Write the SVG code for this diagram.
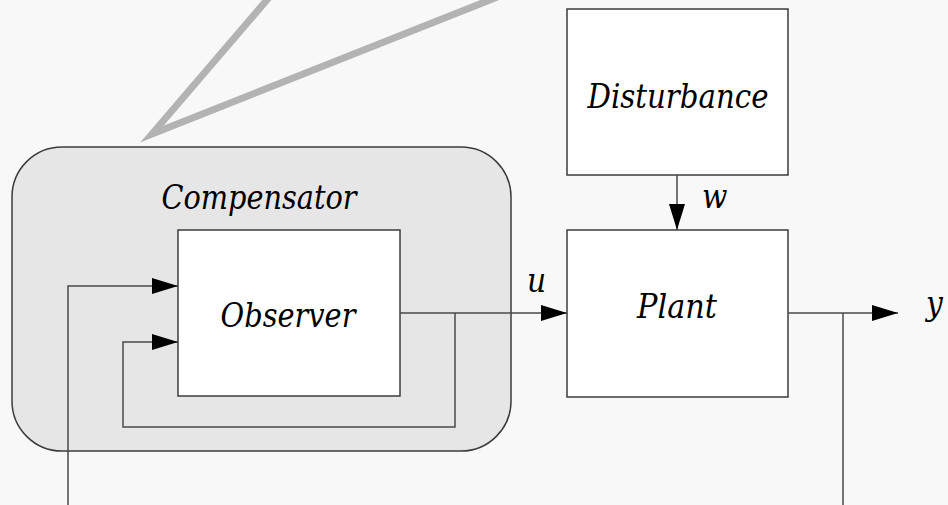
<svg xmlns="http://www.w3.org/2000/svg" width="948" height="505" viewBox="0 0 948 505">
  <style>
    .box { fill: #ffffff; stroke: #3c3c3c; stroke-width: 1.5; }
    .group { fill: #e6e6e6; stroke: #3c3c3c; stroke-width: 1.5; }
    .wire { fill: none; stroke: #4a4a4a; stroke-width: 1.5; }
    .mid { text-anchor: middle; }
    .lbl { font-family: "DejaVu Serif Condensed", "DejaVu Serif", serif; font-style: italic; font-size: 33px; fill: #000000; }
  </style>
  <defs>
    <marker id="arrow" markerWidth="26" markerHeight="16" refX="26" refY="8" orient="auto" markerUnits="userSpaceOnUse">
      <path d="M0,0 L26,8 L0,16 Z" fill="#000000"/>
    </marker>
  </defs>

  <rect x="0" y="0" width="948" height="505" fill="#f8f8f8"/>

  <!-- callout pointer into the compensator -->
  <polyline points="272,-6 152,134 505,-6" fill="none" stroke="#b3b3b3" stroke-width="7" stroke-linejoin="miter" stroke-miterlimit="12"/>

  <g id="compensator">
    <rect class="group" x="12" y="147" width="499" height="304" rx="50" ry="50"/>
    <text class="lbl mid" x="259" y="209" textLength="195" lengthAdjust="spacingAndGlyphs">Compensator</text>
  </g>

  <g id="observer">
    <rect class="box" x="178" y="230" width="222" height="166"/>
    <text class="lbl mid" x="288" y="327" textLength="135" lengthAdjust="spacingAndGlyphs">Observer</text>
  </g>

  <g id="disturbance">
    <rect class="box" x="567" y="9" width="221" height="166"/>
    <text class="lbl mid" x="678" y="108" textLength="181" lengthAdjust="spacingAndGlyphs">Disturbance</text>
  </g>

  <g id="plant">
    <rect class="box" x="567" y="230" width="221" height="167"/>
    <text class="lbl mid" x="677" y="318" textLength="80" lengthAdjust="spacingAndGlyphs">Plant</text>
  </g>

  <g id="connectors">
    <!-- w : disturbance into plant -->
    <path class="wire" d="M677,175 V230" marker-end="url(#arrow)"/>
    <text class="lbl" x="702" y="208">w</text>
    <!-- u : observer output into plant -->
    <path class="wire" d="M400,313 H567" marker-end="url(#arrow)"/>
    <text class="lbl" x="527" y="292">u</text>
    <!-- u fed back into the observer -->
    <path class="wire" d="M455,313 V427 H123 V342 H178" marker-end="url(#arrow)"/>
    <!-- y : plant output -->
    <path class="wire" d="M788,313 H898" marker-end="url(#arrow)"/>
    <text class="lbl" x="926" y="315">y</text>
    <!-- y measured and returned to the observer -->
    <path class="wire" d="M843,313 V505"/>
    <path class="wire" d="M68,505 V286 H178" marker-end="url(#arrow)"/>
  </g>
</svg>
